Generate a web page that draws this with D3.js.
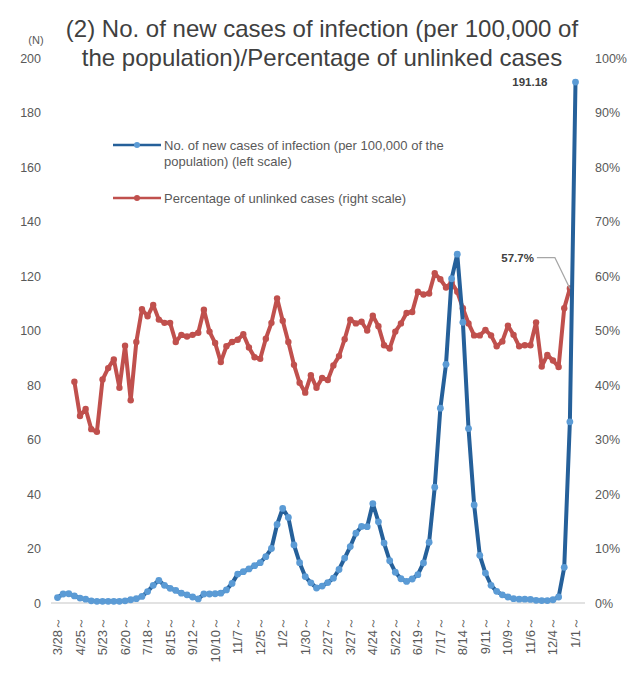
<!DOCTYPE html>
<html><head><meta charset="utf-8">
<script src="https://cdn.jsdelivr.net/npm/d3@7"></script>
<style>body{margin:0;background:#fff}svg{display:block}</style>
</head><body><svg id="c" width="636" height="677"></svg>
<script>
// ---- data ----
const startDate = new Date(2020, 2, 28);   // first week: 3/28
const weekCount = 93;
const tickEvery = 4;
const newCases = [2.0,3.3,3.4,2.6,1.8,1.4,0.8,0.6,0.6,0.6,0.6,0.6,0.8,1.2,1.6,2.4,4.2,6.5,8.3,6.5,
  5.4,4.6,3.6,3.0,2.2,1.5,3.3,3.3,3.4,3.6,4.8,7.2,10.6,11.5,12.5,13.7,14.8,17,20,28.8,
  34.7,31.4,21.3,14.8,9.7,7.4,5.5,6.2,7.5,9.1,12.3,16.5,20.7,25.6,28.1,28,36.5,29.8,22,15.5,
  11.3,8.9,7.9,8.8,10.4,14.7,22.3,42.5,71.5,87.6,119,128,103,64,36,17.5,11,6.5,4.3,3.0,
  2.2,1.6,1.4,1.4,1.3,1.0,0.9,0.9,1.2,2.2,13.1,66.5,191.18];
const unlinkedPct = [null,null,null,40.6,34.3,35.6,31.9,31.4,41,43.1,44.7,39.5,47.2,37.2,47.9,53.9,52.6,54.7,52,51.4,
  51.4,47.9,49.2,48.9,49.2,49.6,53.8,49.8,47.7,44.2,47.1,47.9,48.3,49.3,46.9,45.1,44.8,48.5,51.4,55.9,
  51.8,47.9,43.7,40.4,38.6,41.8,39.5,41.3,40.9,43.6,45.3,48.4,52,51.3,51.6,50,52.7,50.8,47.3,46.7,
  49.8,51.3,53.2,53.4,57.1,56.6,56.8,60.5,59.4,57.9,58.8,57.1,54.1,51.3,49.1,49.1,50.1,49.1,47.1,48,
  50.9,49.2,47.1,47.3,47.3,51.5,43.4,45.5,44.5,43.3,54.1,57.7,null];
const leftTicks = [0,20,40,60,80,100,120,140,160,180,200];
const rightTicks = [0,10,20,30,40,50,60,70,80,90,100];
const titleLines = ["(2) No. of new cases of infection (per 100,000 of", "the population)/Percentage of unlinked cases"];
const legendBlue = ["No. of new cases of infection (per 100,000 of the", "population) (left scale)"];
const legendRed = ["Percentage of unlinked cases (right scale)"];
const peakLabel = "191.18";
const lastPctLabel = "57.7%";

const weekLabels = d3.range(weekCount).map(i => {
  const d = d3.timeDay.offset(startDate, 7 * i);
  return (d.getMonth() + 1) + "/" + d.getDate() + "～";
});

// ---- chart ----
const svg = d3.select("#c");
const font = "'Liberation Sans', Arial, sans-serif";
const x = d3.scaleLinear().domain([0, weekCount - 1]).range([57.5, 575.5]);
const yL = d3.scaleLinear().domain([0, 200]).range([603, 58]);
const yR = d3.scaleLinear().domain([0, 100]).range([603, 58]);

// baseline
svg.append("line").attr("x1", 51).attr("x2", 585).attr("y1", yL(0)).attr("y2", yL(0))
  .attr("stroke", "#d9d9d9").attr("stroke-width", 1.5);

// left axis
const gL = svg.append("g").attr("transform", "translate(41,0)")
  .call(d3.axisLeft(yL).tickValues(leftTicks).tickSize(0).tickPadding(0));
gL.select(".domain").remove();
gL.selectAll("text").attr("font-family", font).attr("font-size", 12.5).attr("fill", "#595959");

// right axis
const gR = svg.append("g").attr("transform", "translate(595,0)")
  .call(d3.axisRight(yR).tickValues(rightTicks).tickFormat(d => d + "%").tickSize(0).tickPadding(0));
gR.select(".domain").remove();
gR.selectAll("text").attr("font-family", font).attr("font-size", 12.5).attr("fill", "#595959");

// x labels
const tickIdx = d3.range(0, weekCount, tickEvery);
svg.append("g").selectAll("text").data(tickIdx).join("text")
  .attr("transform", i => `translate(${x(i) + 4.5},617) rotate(-90)`)
  .attr("text-anchor", "end")
  .attr("font-family", font).attr("font-size", 13).attr("fill", "#595959")
  .text(i => weekLabels[i]);

// red series (right scale)
const redCol = "#C0504D";
const lineR = d3.line().defined(d => d != null).x((d, i) => x(i)).y(d => yR(d));
svg.append("path").datum(unlinkedPct).attr("d", lineR).attr("fill", "none")
  .attr("stroke", redCol).attr("stroke-width", 4).attr("stroke-linejoin", "round");
svg.append("g").selectAll("circle").data(unlinkedPct.map((v, i) => [i, v]).filter(d => d[1] != null))
  .join("circle").attr("cx", d => x(d[0])).attr("cy", d => yR(d[1])).attr("r", 3.2).attr("fill", redCol);

// blue series (left scale)
const blueLine = "#25609A", blueDot = "#5B9BD5";
const lineB = d3.line().x((d, i) => x(i)).y(d => yL(d));
svg.append("path").datum(newCases).attr("d", lineB).attr("fill", "none")
  .attr("stroke", blueLine).attr("stroke-width", 4).attr("stroke-linejoin", "round");
svg.append("g").selectAll("circle").data(newCases).join("circle")
  .attr("cx", (d, i) => x(i)).attr("cy", d => yL(d)).attr("r", 3.4).attr("fill", blueDot);

// annotations
const lastB = weekCount - 1;
svg.append("text").attr("x", x(lastB) - 28).attr("y", yL(newCases[lastB]) + 4)
  .attr("text-anchor", "end").attr("font-family", font).attr("font-size", 11.5)
  .attr("font-weight", "bold").attr("fill", "#404040").text(peakLabel);
const lastR = weekCount - 2;
const ax = x(lastR), ay = yR(unlinkedPct[lastR]);
svg.append("polyline").attr("points", `${ax - 33},${ay - 31} ${ax - 15},${ay - 31} ${ax},${ay}`)
  .attr("fill", "none").attr("stroke", "#a6a6a6").attr("stroke-width", 1.3);
svg.append("text").attr("x", ax - 36).attr("y", ay - 27).attr("text-anchor", "end")
  .attr("font-family", font).attr("font-size", 11.5).attr("font-weight", "bold").attr("fill", "#404040")
  .text(lastPctLabel);

// legend
function legendItem(y0, lineCol, dotCol, lines) {
  svg.append("line").attr("x1", 113).attr("x2", 161).attr("y1", y0).attr("y2", y0)
    .attr("stroke", lineCol).attr("stroke-width", 2.5);
  svg.append("circle").attr("cx", 137).attr("cy", y0).attr("r", 3).attr("fill", dotCol);
  svg.append("g").selectAll("text").data(lines).join("text")
    .attr("x", 164).attr("y", (d, i) => y0 + 5 + i * 16)
    .attr("font-family", font).attr("font-size", 13).attr("fill", "#595959").text(d => d);
}
legendItem(145, blueLine, blueDot, legendBlue);
legendItem(198, redCol, redCol, legendRed);

// title
svg.append("g").selectAll("text").data(titleLines).join("text")
  .attr("x", 322).attr("y", (d, i) => 37 + i * 29).attr("text-anchor", "middle")
  .attr("font-family", font).attr("font-size", 24).attr("fill", "#404040").text(d => d);
svg.append("text").attr("x", 36).attr("y", 44).attr("text-anchor", "middle")
  .attr("font-family", font).attr("font-size", 11).attr("fill", "#595959").text("(N)");
</script></body></html>
